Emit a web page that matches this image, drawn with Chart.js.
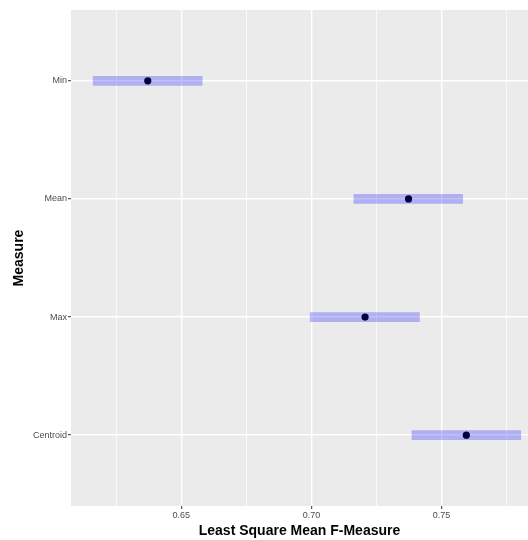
<!DOCTYPE html>
<html>
<head>
<meta charset="utf-8">
<script src="https://cdn.jsdelivr.net/npm/chart.js@4.4.1/dist/chart.umd.min.js"></script>
<style>
  html, body { margin: 0; padding: 0; background: #ffffff; overflow: hidden; }
  canvas { display: block; }
</style>
</head>
<body>
<canvas id="lsmChart" width="528" height="540"></canvas>
<script>
// least square means with confidence limits, one per measure (top to bottom)
const measures = ["Min", "Mean", "Max", "Centroid"];
const lsmean = [0.6371, 0.7373, 0.7206, 0.7595];
const lowerCL = [0.6161, 0.7163, 0.6995, 0.7386];
const upperCL = [0.6580, 0.7581, 0.7415, 0.7804];

// x grid: minor + major, only majors get labels
const xGridValues = [0.625, 0.65, 0.675, 0.70, 0.725, 0.75, 0.775];
const xTickLabels = ["", "0.65", "", "0.70", "", "0.75", ""];

(function () {
  const canvas = document.getElementById("lsmChart");
  const isMajor = (i) => xTickLabels[i] !== "";

  const panelBg = {
    id: "panelBg",
    beforeDraw(chart) {
      const { ctx, chartArea } = chart;
      ctx.save();
      ctx.fillStyle = "#EBEBEB";
      ctx.fillRect(chartArea.left, chartArea.top, chartArea.right - chartArea.left, chartArea.bottom - chartArea.top);
      ctx.restore();
    },
  };

  new Chart(canvas, {
    type: "bar",
    data: {
      datasets: [
        {
          type: "scatter",
          label: "LS mean",
          data: measures.map((m, i) => ({ x: lsmean[i], y: i })),
          backgroundColor: "#00003A",
          borderColor: "#00003A",
          pointRadius: 3.6,
          pointBorderWidth: 0,
          order: 0,
        },
        {
          label: "CL",
          data: measures.map((m, i) => ({ x: [lowerCL[i], upperCL[i]], y: i })),
          backgroundColor: "rgba(0, 0, 255, 0.25)",
          borderWidth: 0,
          borderSkipped: false,
          barThickness: 9,
          order: 1,
        },
      ],
    },
    options: {
      indexAxis: "y",
      responsive: false,
      animation: false,
      layout: { autoPadding: false, padding: { top: 10, right: 0, bottom: 0, left: 0 } },
      plugins: {
        legend: { display: false },
        tooltip: { enabled: false },
      },
      scales: {
        x: {
          type: "linear",
          min: 0.6076,
          max: 0.7832,
          offset: false,
          afterBuildTicks: (scale) => {
            scale.ticks = xGridValues.map((v) => ({ value: v }));
          },
          afterFit: (scale) => {
            scale.height = 34;
            scale.paddingLeft = 0;
            scale.paddingRight = 0;
          },
          ticks: {
            autoSkip: false,
            maxRotation: 0,
            padding: 1,
            color: "#4D4D4D",
            font: { family: "Liberation Sans, Arial, sans-serif", size: 9 },
            callback: (value, index) => xTickLabels[index],
          },
          grid: {
            color: "#FFFFFF",
            lineWidth: (ctx) => (isMajor(ctx.index) ? 1.4 : 0.7),
            drawTicks: true,
            tickLength: 3,
            tickWidth: 1,
            tickColor: (ctx) => (isMajor(ctx.index) ? "#333333" : "rgba(0,0,0,0)"),
          },
          border: { display: false },
          title: {
            display: true,
            text: "Least Square Mean F-Measure",
            color: "#000000",
            font: { family: "Liberation Sans, Arial, sans-serif", size: 14, weight: "bold" },
            padding: { top: 0, bottom: 0 },
          },
        },
        y: {
          type: "linear",
          reverse: true,
          offset: false,
          min: -0.6,
          max: measures.length - 0.4,
          afterBuildTicks: (scale) => {
            scale.ticks = measures.map((m, i) => ({ value: i }));
          },
          afterFit: (scale) => {
            scale.width = 71;
            scale.paddingTop = 0;
            scale.paddingBottom = 0;
          },
          ticks: {
            autoSkip: false,
            padding: 1,
            color: "#4D4D4D",
            font: { family: "Liberation Sans, Arial, sans-serif", size: 9 },
            callback: (value) => measures[value],
          },
          grid: {
            offset: false,
            color: "#FFFFFF",
            lineWidth: 1.4,
            drawTicks: true,
            tickLength: 3,
            tickWidth: 1,
            tickColor: "#333333",
          },
          border: { display: false },
          title: {
            display: true,
            text: "Measure",
            color: "#000000",
            font: { family: "Liberation Sans, Arial, sans-serif", size: 14, weight: "bold" },
            padding: { top: 11, bottom: 0 },
          },
        },
      },
    },
    plugins: [panelBg],
  });
})();
</script>
</body>
</html>
